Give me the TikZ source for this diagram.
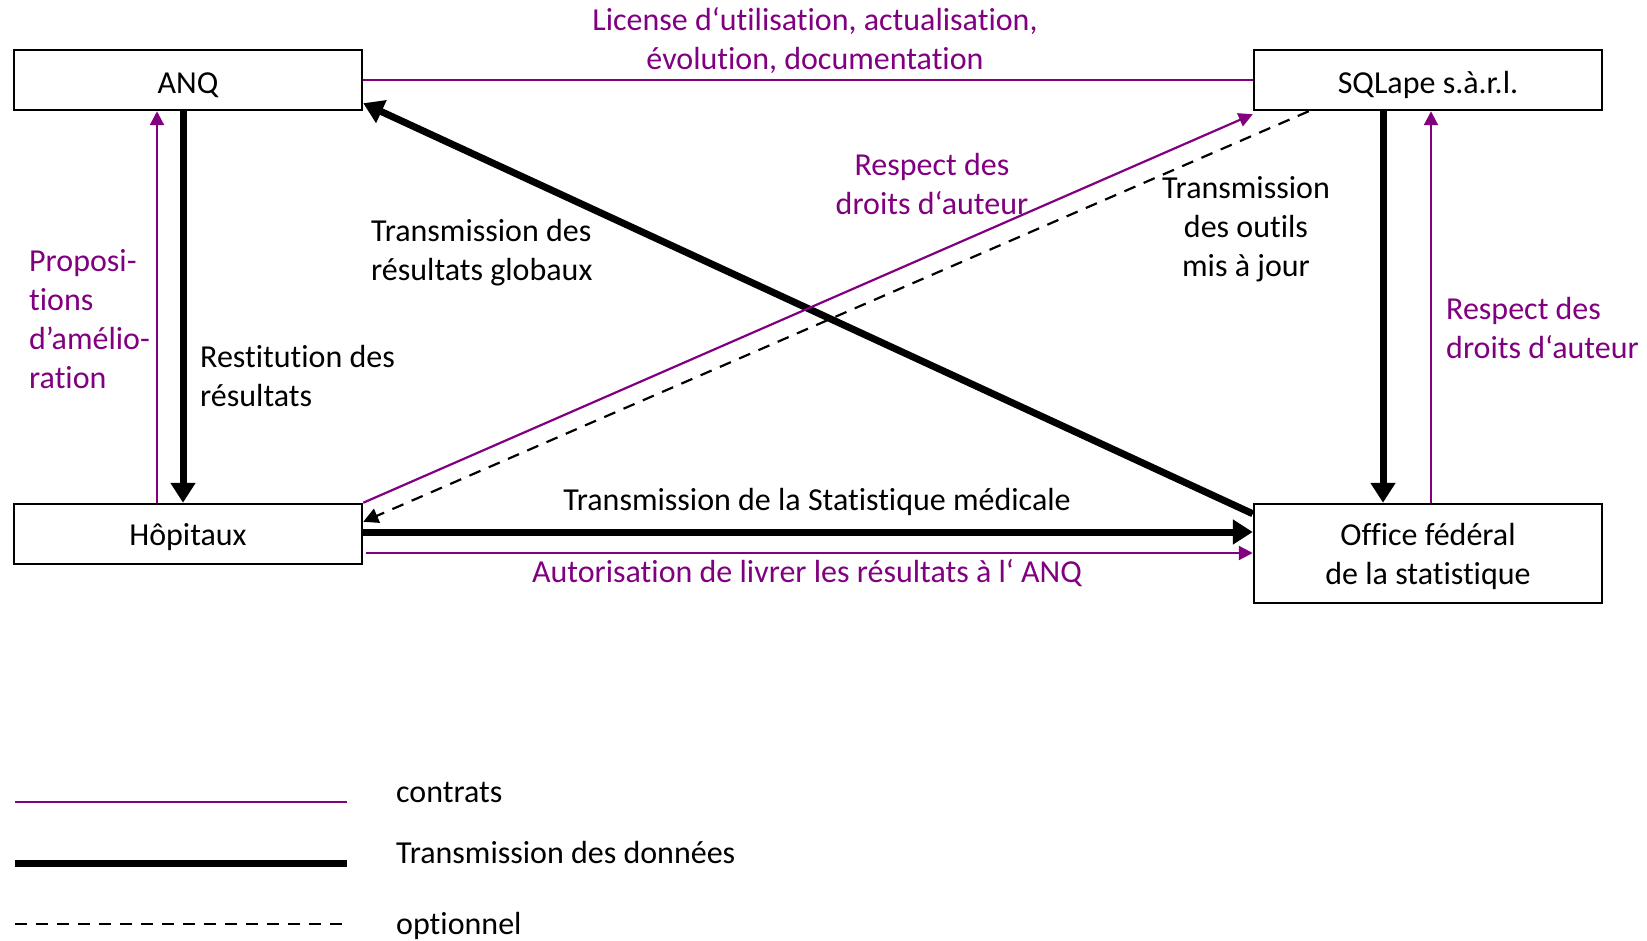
\documentclass[tikz,border=0pt]{standalone}
\usepackage{fontspec}
\setmainfont[Ligatures={NoCommon}]{Carlito}
\usetikzlibrary{arrows.meta}
\definecolor{vio}{RGB}{128,0,128}
\begin{document}
\begin{tikzpicture}[x=1pt,y=-1pt,
  font=\fontsize{32}{39}\selectfont,
  box/.style={draw, line width=2.5pt, minimum width=348pt, minimum height=60pt, inner sep=0pt, align=center},
  contract/.style={draw=vio, line width=2.2pt},
  carrow/.style={contract, -{Triangle[length=14pt,width=14pt]}},
  data/.style={draw=black, line width=7pt},
  darrow/.style={data, -{Triangle[length=20pt,width=24pt]}},
  opt/.style={draw=black, line width=2.2pt, dash pattern=on 12pt off 9pt},
  oarrow/.style={opt, -{Triangle[length=15pt,width=15pt]}},
  lbl/.style={inner sep=0pt, align=center},
  vlbl/.style={lbl, text=vio},
]
\useasboundingbox (0,0) rectangle (1647,941);

\node[box, label={[lbl,yshift=-5pt]center:ANQ}] (anq) at (188,80) {};
\node[box, label={[lbl,yshift=-5pt]center:SQLape s.à.r.l.}] (sql) at (1428,80) {};
\node[box, label={[lbl,yshift=-3pt]center:Hôpitaux}] (hop) at (188,534) {};
\node[box, minimum height=99pt, label={[lbl,yshift=-2.5pt]center:Office fédéral\\de la statistique}] (ofs) at (1428,553.5) {};

\draw[contract] (anq.east) -- (sql.west);
\draw[darrow] ([xshift=-5pt]anq.south) -- ([xshift=-5pt]hop.north);
\draw[carrow] ([xshift=-31pt]hop.north) -- ([xshift=-31pt]anq.south);
\draw[darrow] ([xshift=-45pt]sql.south) -- ([xshift=-45pt]ofs.north);
\draw[carrow] ([xshift=3pt]ofs.north) -- ([xshift=3pt]sql.south);
\draw[darrow] ([yshift=-11pt]ofs.north west) -- ([yshift=8pt]anq.south east);
\draw[carrow] (hop.north east) -- ([yshift=-3pt]sql.south west);
\draw[oarrow] ([xshift=56pt]sql.south west) -- ([yshift=-19pt]hop.north east);
\draw[darrow] ([yshift=2pt]hop.east) -- ([yshift=2pt]hop.east -| ofs.west);
\draw[carrow] ([yshift=-19pt,xshift=3pt]hop.east) -- ([yshift=-19pt]hop.east -| ofs.west);

\node[vlbl] (l1) at (815,41) {License d‘utilisation, actualisation,\\évolution, documentation};
\node[lbl, anchor=west, align=left] (l2) at (371,253) {Transmission des\\résultats globaux};
\node[vlbl] (l3) at (932,184.5) {Respect des\\droits d‘auteur};
\node[lbl] (l4) at (1246,229) {Transmission\\des outils\\mis à jour};
\node[vlbl, anchor=west, align=left] (l5) at (29,319) {Proposi-\\tions\\d’amélio-\\ration};
\node[lbl, anchor=west, align=left] (l6) at (200,376) {Restitution des\\résultats};
\node[vlbl, anchor=west, align=left] (l7) at (1446,328) {Respect des\\droits d‘auteur};
\node[lbl] (l8) at (817,502) {Transmission de la Statistique médicale};
\node[vlbl] (l9) at (807,573) {Autorisation de livrer les résultats à l‘ ANQ};

\coordinate (g1a) at (15,802); \coordinate (g1b) at (347,802);
\coordinate (g2a) at (15,863); \coordinate (g2b) at (347,863);
\coordinate (g3a) at (15,924); \coordinate (g3b) at (347,924);
\draw[contract] (g1a) -- (g1b);
\draw[data] (g2a) -- (g2b);
\draw[opt] (g3a) -- (g3b);
\node[lbl, anchor=west] (t1) at (396,792) {contrats};
\node[lbl, anchor=west] (t2) at (396,853) {Transmission des données};
\node[lbl, anchor=west] (t3) at (396,926) {optionnel};
\end{tikzpicture}
\end{document}
